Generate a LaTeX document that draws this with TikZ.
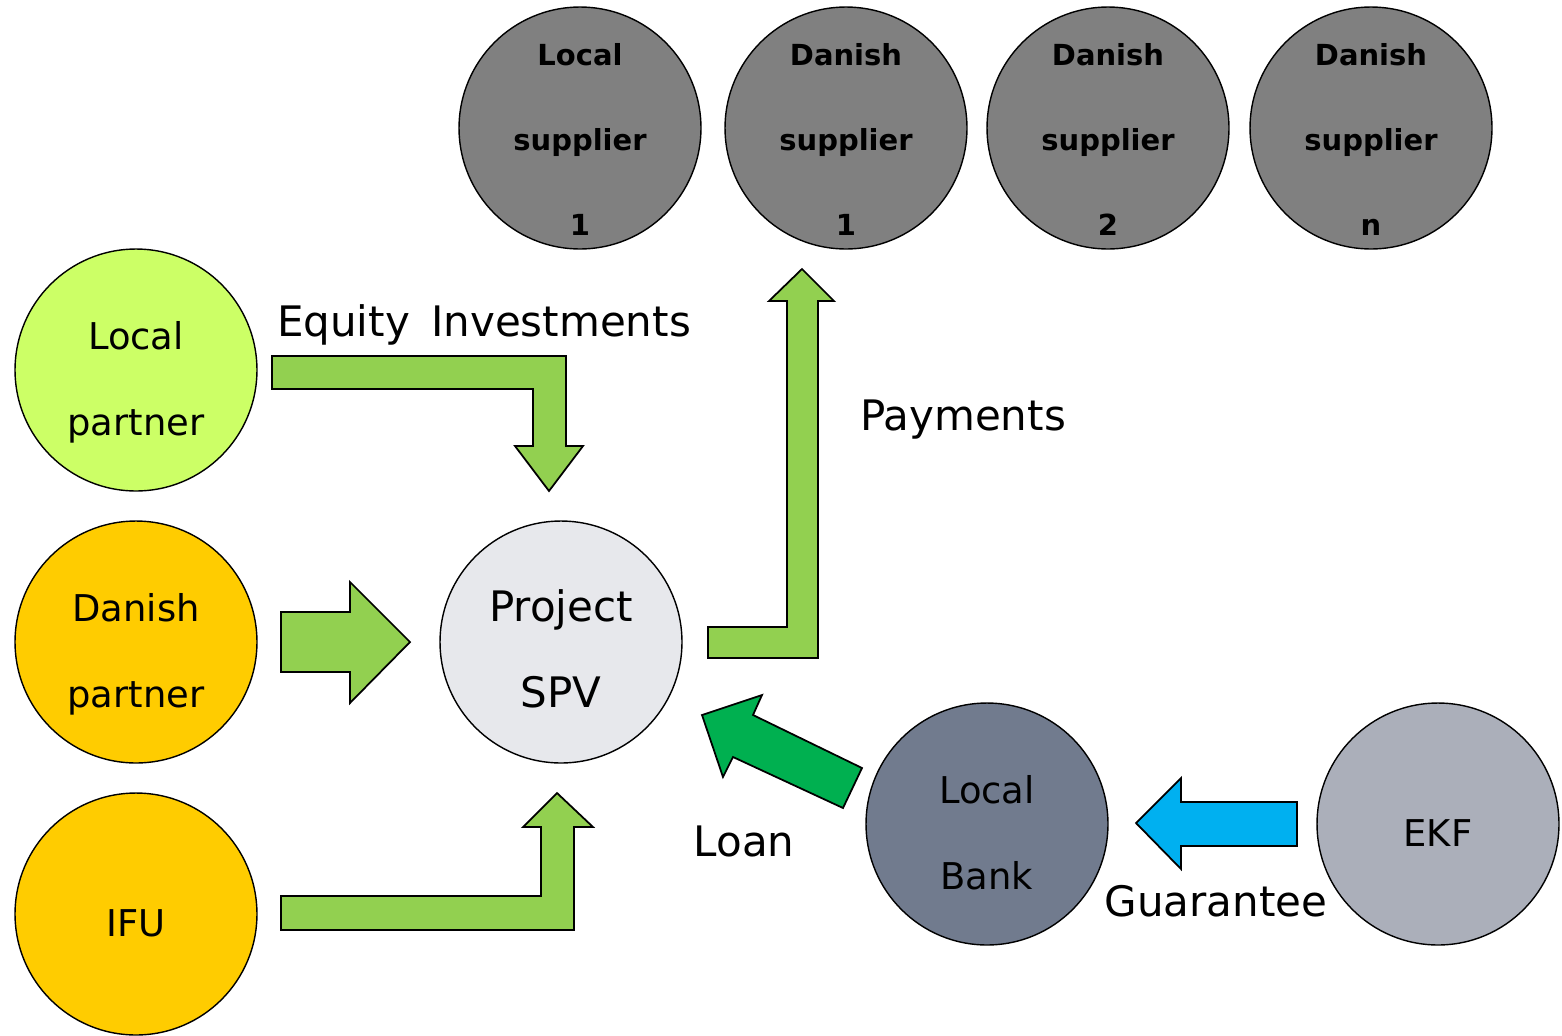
\documentclass[tikz,border=0pt]{standalone}
\usepackage{fontspec}
\setmainfont{DejaVu Sans}
\usetikzlibrary{positioning}

\definecolor{localgreen}{HTML}{CCFF66}
\definecolor{partnergold}{HTML}{FFCC00}
\definecolor{suppliergray}{HTML}{808080}
\definecolor{spvgray}{HTML}{E7E8EC}
\definecolor{bankslate}{HTML}{717B8E}
\definecolor{ekfgray}{HTML}{ABAFBA}
\definecolor{flowgreen}{HTML}{92D050}
\definecolor{loangreen}{HTML}{00B050}
\definecolor{guaranteeblue}{HTML}{00B0F0}

% struts so the text sits low in the circles
\newcommand\firstline{\rule{0pt}{31.6pt}}
\newcommand\lastline{\rule[-6pt]{0pt}{6pt}}

\tikzset{
  party/.style={draw, circle, minimum size=4.84cm, inner sep=0pt, line width=0.8pt,
    align=center, font=\fontsize{21}{48.4}\selectfont},
  supplier/.style={party, inner sep=-8pt, fill=suppliergray, font=\fontsize{16.5}{48.4}\selectfont\bfseries},
  flow/.style={draw, line width=1pt, fill=flowgreen},
  caption/.style={font=\fontsize{23.9}{28}\selectfont, anchor=base}
}

\begin{document}
\begin{tikzpicture}[x=0.02cm, y=-0.02cm]
\useasboundingbox (0,0) rectangle (1562,1035);

% suppliers
\def\y{128}
\node[supplier] (ls1) at (580, \y) {\firstline Local\\supplier\\1\lastline};
\node[supplier] (ds1) at (846, \y) {\firstline Danish\\supplier\\1\lastline};
\node[supplier] (ds2) at (1108, \y) {\firstline Danish\\supplier\\2\lastline};
\node[supplier] (dsn) at (1371, \y) {\firstline Danish\\supplier\\n\lastline};

% investors
\def\x{136}
\node[party, fill=localgreen] (lp) at (\x, 370) {\firstline Local\\partner\lastline};
\node[party, fill=partnergold] (dp) at (\x, 642) {\firstline Danish\\partner\lastline};
\node[party, fill=partnergold] (ifu) at (\x, 914) {\firstline IFU\lastline};

\node[party, fill=spvgray, font=\fontsize{23.9}{48.4}\selectfont] (spv) at (561, 642) {\firstline Project\\SPV\lastline};
\node[party, fill=bankslate] (bank) at (987, 824) {\firstline Local\\Bank\lastline};
\node[party, fill=ekfgray] (ekf) at (1438, 824) {\firstline EKF\lastline};

% block arrows
\draw[flow] (272,356) -- (566,356) -- (566,446) -- (583,446) -- (549,491) -- (515,446) -- (533,446) -- (533,389) -- (272,389) -- cycle;
\draw[flow] (281,612) -- (350,612) -- (350,582) -- (410,642) -- (350,703) -- (350,672) -- (281,672) -- cycle;
\draw[flow] (281,930) -- (574,930) -- (574,827) -- (593,827) -- (557,793) -- (523,827) -- (541,827) -- (541,896) -- (281,896) -- cycle;
\draw[flow] (708,658) -- (818,658) -- (818,301) -- (834,301) -- (802,269) -- (769,301) -- (787,301) -- (787,627) -- (708,627) -- cycle;
\draw[flow, fill=loangreen] (702,715) -- (762,695) -- (753,715) -- (862,768) -- (843,808) -- (733,757) -- (723,777) -- cycle;
\draw[flow, fill=guaranteeblue] (1136,823) -- (1181,778) -- (1181,802) -- (1297,802) -- (1297,846) -- (1181,846) -- (1181,869) -- cycle;

% captions
\node[caption] (eq) at (484, 336) {Equity \hspace{4.5pt}Investments};
\node[caption] (pay) at (963, 430) {Payments};
\node[caption] (loan) at (744, 856) {Loan};
\node[caption] (guar) at (1216, 916) {Guarantee};

\end{tikzpicture}
\end{document}
